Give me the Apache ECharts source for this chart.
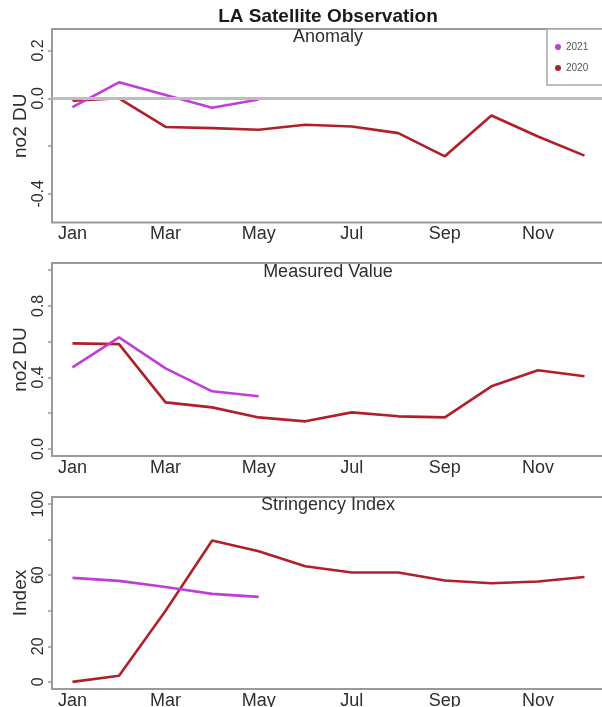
<!DOCTYPE html>
<html>
<head>
<meta charset="utf-8">
<script src="https://cdn.jsdelivr.net/npm/echarts@6/dist/echarts.min.js"></script>
<style>
html,body{margin:0;padding:0;background:#ffffff;}
#chart{width:602px;height:707px;}
</style>
</head>
<body>
<div id="chart"></div>
<script>
// ---- data ----
const months = ['Jan','Feb','Mar','Apr','May','Jun','Jul','Aug','Sep','Oct','Nov','Dec'];
const monthIndex = [1,2,3,4,5,6,7,8,9,10,11,12];
const monthLabelPositions = [1,3,5,7,9,11];

const anomaly2020 = [-0.01, 0.0, -0.12, -0.125, -0.132, -0.111, -0.118, -0.146, -0.243, -0.072, -0.16, -0.24];
const anomaly2021 = [-0.037, 0.067, 0.014, -0.04, -0.005];

const measured2020 = [0.59, 0.586, 0.26, 0.232, 0.176, 0.154, 0.204, 0.182, 0.176, 0.35, 0.44, 0.406];
const measured2021 = [0.456, 0.624, 0.45, 0.322, 0.294];

const stringency2020 = [0, 3.5, 40, 79.5, 73.5, 65, 61.5, 61.5, 57, 55.5, 56.5, 59];
const stringency2021 = [58.5, 56.8, 53.4, 49.5, 47.8];

const anomalyTicks = [-0.4, -0.2, 0, 0.2];
const anomalyTickLabels = [-0.4, 0, 0.2];
const measuredTicks = [0, 0.2, 0.4, 0.6, 0.8, 1.0];
const measuredTickLabels = [0, 0.4, 0.8];
const stringencyTicks = [0, 20, 40, 60, 80, 100];
const stringencyTickLabels = [0, 20, 60, 100];

const panelTitles = ['Anomaly', 'Measured Value', 'Stringency Index'];
const mainTitle = 'LA Satellite Observation';

// ---- styling ----
const FONT = '"Liberation Sans", Arial, Helvetica, sans-serif';
const TXT = '#2e2e2e';
const BOX = '#9a9a9a';
const C2020 = '#b0202a';
const C2021 = '#c03dd8';

function pairs(vals){ return vals.map((v,i)=>[monthIndex[i], v]); }

const grids = [
  {left:52, top:29, width:553, height:193.5},
  {left:52, top:263, width:553, height:193},
  {left:52, top:497, width:553, height:192}
].map(g => Object.assign(g, {show:true, borderColor:BOX, borderWidth:2, backgroundColor:'transparent',
  containLabel:false, outerBoundsMode:'none'}));

function xAxis(i){
  return {
    type:'value', gridIndex:i, min:0.56, max:12.44,
    axisLine:{show:false}, axisTick:{show:false}, splitLine:{show:false},
    axisLabel:{customValues:monthLabelPositions, formatter:v=>months[Math.round(v)-1],
      fontFamily:FONT, fontSize:18, color:TXT, margin:3}
  };
}
function yAxis(i, min, max, ticks, labels, name, dec){
  return {
    type:'value', gridIndex:i, min:min, max:max,
    name:name, nameLocation:'middle', nameGap:22, nameMoveOverlap:false,
    nameTextStyle:{fontFamily:FONT, fontSize:19, color:TXT},
    axisLine:{show:false}, splitLine:{show:false},
    axisTick:{show:true, customValues:ticks, length:4, inside:false, lineStyle:{color:BOX, width:1.5}},
    axisLabel:{customValues:labels, rotate:90, fontFamily:FONT, fontSize:16, color:TXT, margin:5,
      formatter:v=>Number(v).toFixed(dec)}
  };
}

function lineSeries(name, data, i, color){
  return {
    type:'line', name:name, xAxisIndex:i, yAxisIndex:i, data:pairs(data),
    showSymbol:false, symbol:'none', z:3,
    lineStyle:{color:color, width:2.6}, itemStyle:{color:color},
    animation:false, silent:true
  };
}

const option = {
  backgroundColor:'#ffffff',
  animation:false,
  grid:grids,
  xAxis:[xAxis(0), xAxis(1), xAxis(2)],
  yAxis:[
    yAxis(0, -0.52, 0.29, anomalyTicks, anomalyTickLabels, 'no2 DU', 1),
    yAxis(1, -0.04, 1.04, measuredTicks, measuredTickLabels, 'no2 DU', 1),
    yAxis(2, -4, 104, stringencyTicks, stringencyTickLabels, 'Index', 0)
  ],
  legend:{
    data:['2021','2020'], orient:'vertical', left:547, top:29,
    icon:'circle', itemWidth:6, itemHeight:6, itemGap:11,
    padding:[13,40,12,8], borderColor:'#a8a8a8', borderWidth:1.5, backgroundColor:'#ffffff',
    textStyle:{fontFamily:FONT, fontSize:10, color:'#555'}, selectedMode:false
  },
  graphic:[
    {type:'text', x:328, y:17, style:{text:mainTitle, font:'bold 19px '+FONT, fill:'#1a1a1a', textAlign:'center', textVerticalAlign:'middle'}},
    {type:'text', x:328, y:37, style:{text:panelTitles[0], font:'18px '+FONT, fill:TXT, textAlign:'center', textVerticalAlign:'middle'}},
    {type:'text', x:328, y:272, style:{text:panelTitles[1], font:'18px '+FONT, fill:TXT, textAlign:'center', textVerticalAlign:'middle'}},
    {type:'text', x:328, y:505, style:{text:panelTitles[2], font:'18px '+FONT, fill:TXT, textAlign:'center', textVerticalAlign:'middle'}}
  ],
  series:[
    {type:'line', name:'zero', xAxisIndex:0, yAxisIndex:0, data:[], z:1, silent:true,
      markLine:{silent:true, symbol:['none','none'], label:{show:false},
        lineStyle:{color:'#bdbdbd', width:3, type:'solid'}, data:[{yAxis:0}], animation:false}},
    lineSeries('2020', anomaly2020, 0, C2020),
    lineSeries('2021', anomaly2021, 0, C2021),
    lineSeries('2020', measured2020, 1, C2020),
    lineSeries('2021', measured2021, 1, C2021),
    lineSeries('2020', stringency2020, 2, C2020),
    lineSeries('2021', stringency2021, 2, C2021)
  ]
};

const chart = echarts.init(document.getElementById('chart'), null, {renderer:'canvas'});
chart.setOption(option);
</script>
</body>
</html>
